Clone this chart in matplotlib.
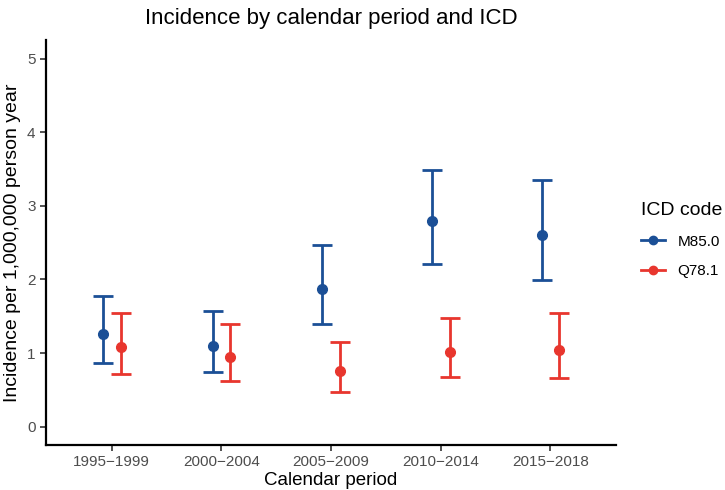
import numpy as np
import matplotlib.pyplot as plt
from matplotlib.lines import Line2D

plt.rcParams['font.family'] = ['Liberation Sans', 'DejaVu Sans']

periods = ['1995\u22121999', '2000\u22122004', '2005\u22122009', '2010\u22122014', '2015\u22122018']

# M85.0
m85_est = [1.26, 1.09, 1.87, 2.79, 2.60]
m85_lo = [0.87, 0.74, 1.40, 2.21, 1.99]
m85_hi = [1.77, 1.57, 2.47, 3.48, 3.35]

# Q78.1
q78_est = [1.08, 0.95, 0.75, 1.02, 1.04]
q78_lo = [0.72, 0.62, 0.47, 0.68, 0.66]
q78_hi = [1.55, 1.40, 1.15, 1.47, 1.54]

blue = '#1B4F96'
red = '#E8362E'

fig = plt.figure(figsize=(7.25, 4.9), dpi=100)
ax = fig.add_axes([0.0634, 0.0918, 0.7866, 0.8262])

x = np.arange(len(periods))
dodge = 0.08
for est, lo, hi, col, off in [(m85_est, m85_lo, m85_hi, blue, -dodge),
                              (q78_est, q78_lo, q78_hi, red, dodge)]:
    est = np.array(est)
    err = [est - np.array(lo), np.array(hi) - est]
    ax.errorbar(x + off, est, yerr=err, fmt='o', color=col, ms=7,
                elinewidth=2, capsize=7, capthick=2)

ax.set_xlim(-0.6, len(periods) - 1 + 0.6)
ax.set_ylim(-0.25, 5.25)
ax.set_xticks(x)
ax.set_xticklabels(periods)
ax.set_yticks(range(6))

for s in ['top', 'right']:
    ax.spines[s].set_visible(False)
for s in ['left', 'bottom']:
    ax.spines[s].set_linewidth(1.6)
    ax.spines[s].set_color('black')
ax.tick_params(colors='#4D4D4D', labelsize=11, length=4, width=1.2)
ax.tick_params(axis='both', color='#333333')

ax.set_xlabel('Calendar period', fontsize=13.5, labelpad=2)
ax.set_ylabel('Incidence per 1,000,000 person year', fontsize=14, va='center')
ax.yaxis.set_label_coords(-0.059, 0.5)
ax.set_title('Incidence by calendar period and ICD', fontsize=16, pad=12)

handles = [Line2D([], [], color=blue, marker='o', lw=2, ms=6),
           Line2D([], [], color=red, marker='o', lw=2, ms=6)]
leg = fig.legend(handles, ['M85.0', 'Q78.1'], title='ICD code',
                 loc='upper left', bbox_to_anchor=(0.865, 0.615),
                 frameon=False, fontsize=11, title_fontsize=14,
                 handlelength=1.6, labelspacing=1.0)
leg._legend_box.align = 'left'

fig.savefig('out.png', dpi=100)
